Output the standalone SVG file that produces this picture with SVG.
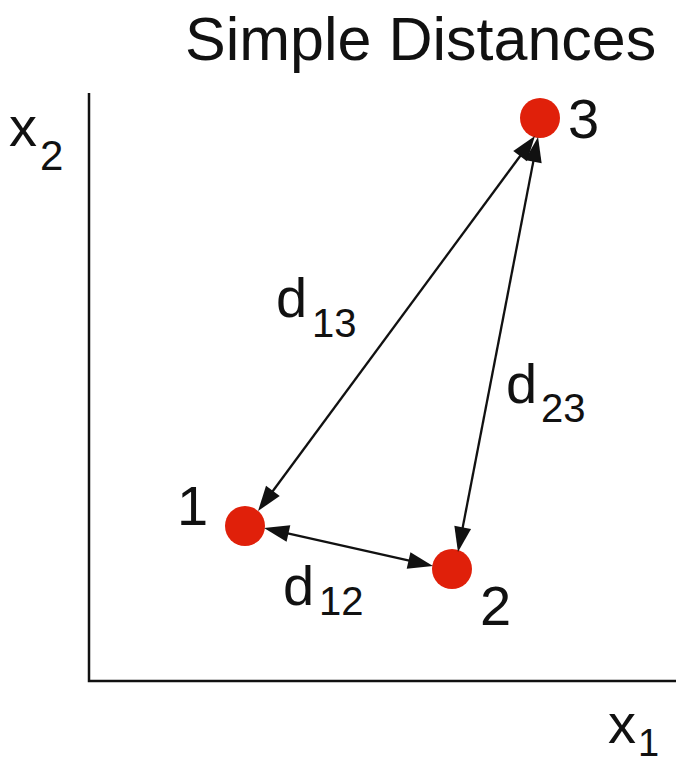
<svg xmlns="http://www.w3.org/2000/svg" width="676" height="763" viewBox="0 0 676 763">
<style>
text { font-family: "Liberation Sans", Arial, Helvetica, sans-serif; fill: #111; }
.pt { fill: #e0200a; }
.conn { stroke: #111; stroke-width: 2.3; fill: none; }
.axis { stroke: #111; stroke-width: 2.5; fill: none; }
.lbl { font-size: 56px; }
.sub { font-size: 40px; }
</style>
<defs>
<marker id="ah" markerUnits="userSpaceOnUse" markerWidth="40" markerHeight="40" refX="0" refY="0" orient="auto-start-reverse" overflow="visible">
<path d="M6,0 L-19,-8.5 L-19,8.5 z" fill="#111"/>
</marker>
</defs>
<text x="185" y="60" font-size="61">Simple Distances</text>
<g id="axes">
<path class="axis" d="M89,93 V681 H676"/>
<text x="9" y="146" font-size="56">x</text>
<text x="40" y="170" font-size="42">2</text>
<text x="608" y="743" font-size="56">x</text>
<text x="638" y="756" font-size="38">1</text>
</g>
<g id="node1">
<circle class="pt" cx="245" cy="526" r="20"/>
<text class="lbl" x="177" y="525">1</text>
</g>
<g id="node2">
<circle class="pt" cx="452" cy="569" r="20"/>
<text class="lbl" x="480" y="625">2</text>
</g>
<g id="node3">
<circle class="pt" cx="540" cy="118" r="20"/>
<text class="lbl" x="568" y="138">3</text>
</g>
<g id="connectors">
<line class="conn" x1="531.4" y1="140.8" x2="261.6" y2="506.2" marker-start="url(#ah)" marker-end="url(#ah)"/>
<line class="conn" x1="536.9" y1="142.9" x2="459.1" y2="546.1" marker-start="url(#ah)" marker-end="url(#ah)"/>
<line class="conn" x1="269.9" y1="529.3" x2="427.1" y2="564.7" marker-start="url(#ah)" marker-end="url(#ah)"/>
</g>
<g id="labels">
<text class="lbl" x="276" y="317">d</text>
<text class="sub" x="312" y="337">13</text>
<text class="lbl" x="506" y="403">d</text>
<text class="sub" x="541" y="422">23</text>
<text class="lbl" x="283" y="605">d</text>
<text class="sub" x="319" y="615">12</text>
</g>
</svg>
